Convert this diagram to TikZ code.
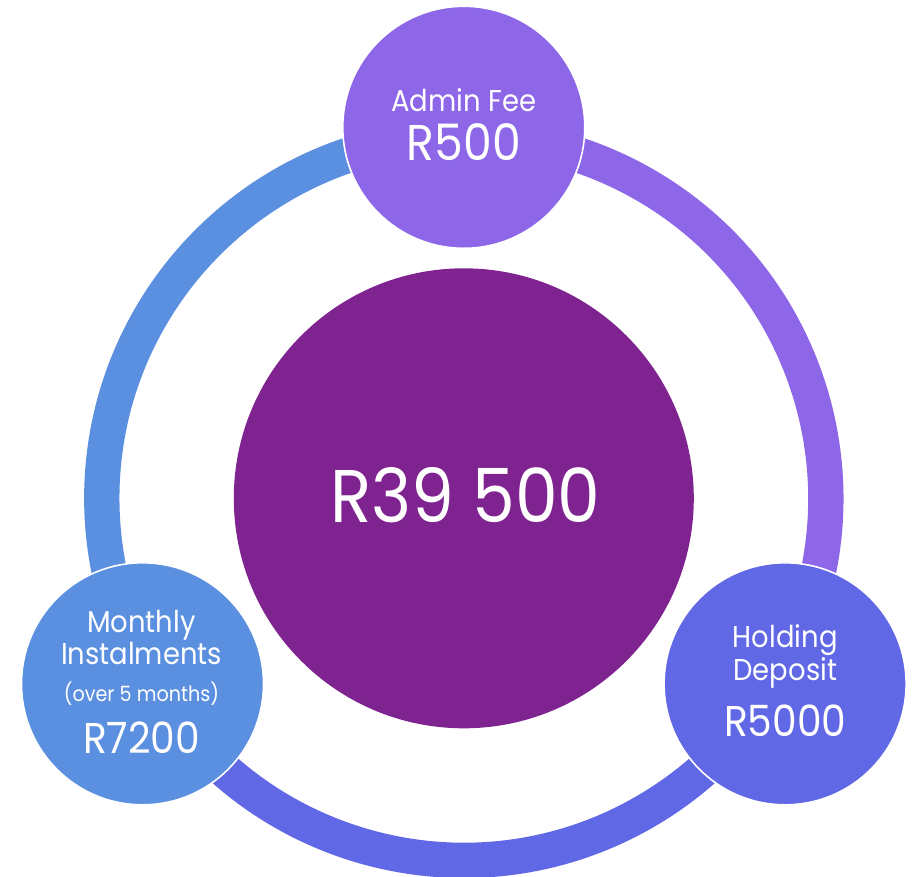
\documentclass[tikz,border=0pt]{standalone}
\usepackage{graphicx}
\usepackage{fontspec}
\setmainfont{Poppins}
\definecolor{hubpurple}{HTML}{7F2391}
\definecolor{feeviolet}{HTML}{8E67E9}
\definecolor{depositblue}{HTML}{6068E5}
\definecolor{monthlyblue}{HTML}{5B8FE0}
\newcommand{\slim}[1]{\scalebox{0.91}[1]{#1}}
\begin{document}
\begin{tikzpicture}[x=0.75pt, y=0.75pt,
    ring/.style={line width=26.5pt},
    bubble/.style={circle, draw=white, line width=1.2pt, minimum size=181.5pt, inner sep=0pt},
    hubcircle/.style={circle, fill=hubpurple, minimum size=345pt, inner sep=0pt},
    lbl/.style={text=white, anchor=base, inner sep=0pt}
]
    \useasboundingbox (-463.8,-377.7) rectangle (452.2,498.3);
    \coordinate (hub) at (0,0);

    % Ring segments
    \draw[ring, monthlyblue] ([shift={(90:362)}]hub) arc[start angle=90, end angle=210, radius=362];
    \draw[ring, feeviolet] ([shift={(-30:362)}]hub) arc[start angle=-30, end angle=90, radius=362];
    \draw[ring, depositblue] ([shift={(210:362)}]hub) arc[start angle=210, end angle=330, radius=362];

    % Total
    \node[hubcircle] (total) at (hub) {};
    \node[lbl, font=\fontsize{56}{60}\selectfont] (totaltxt) at (1.7,-24.4) {\slim{R39 500}};

    % Admin fee
    \node[bubble, fill=feeviolet] (admin) at (90:371) {};
    \node[lbl, font=\fontsize{22.6}{26}\selectfont] (admintxt) at (0,387.3) {\slim{Admin Fee}};
    \node[lbl, font=\fontsize{37.7}{40}\selectfont] (adminamt) at (0,338.3) {\slim{R500}};

    % Holding deposit
    \node[bubble, fill=depositblue] (deposit) at (-30:371) {};
    \node[lbl, font=\fontsize{22.6}{26}\selectfont] (deposittxt) at (321.5,-148.7) {\slim{Holding}};
    \node[lbl, font=\fontsize{22.6}{26}\selectfont] (deposittxtb) at (321.5,-181.7) {\slim{Deposit}};
    \node[lbl, font=\fontsize{32.3}{36}\selectfont] (depositamt) at (321.5,-238.4) {\slim{R5000}};

    % Monthly instalments
    \node[bubble, fill=monthlyblue] (monthly) at (210:371) {};
    \node[lbl, font=\fontsize{22.6}{26}\selectfont] (monthlytxt) at (-322.3,-134.4) {\slim{Monthly}};
    \node[lbl, font=\fontsize{22.6}{26}\selectfont] (monthlytxtb) at (-322.3,-165.7) {\slim{Instalments}};
    \node[lbl, font=\fontsize{15.8}{18}\selectfont] (monthlynote) at (-322.3,-203.4) {\slim{(over 5 months)}};
    \node[lbl, font=\fontsize{32.3}{36}\selectfont] (monthlyamt) at (-322.3,-255) {\slim{R7200}};
\end{tikzpicture}
\end{document}
